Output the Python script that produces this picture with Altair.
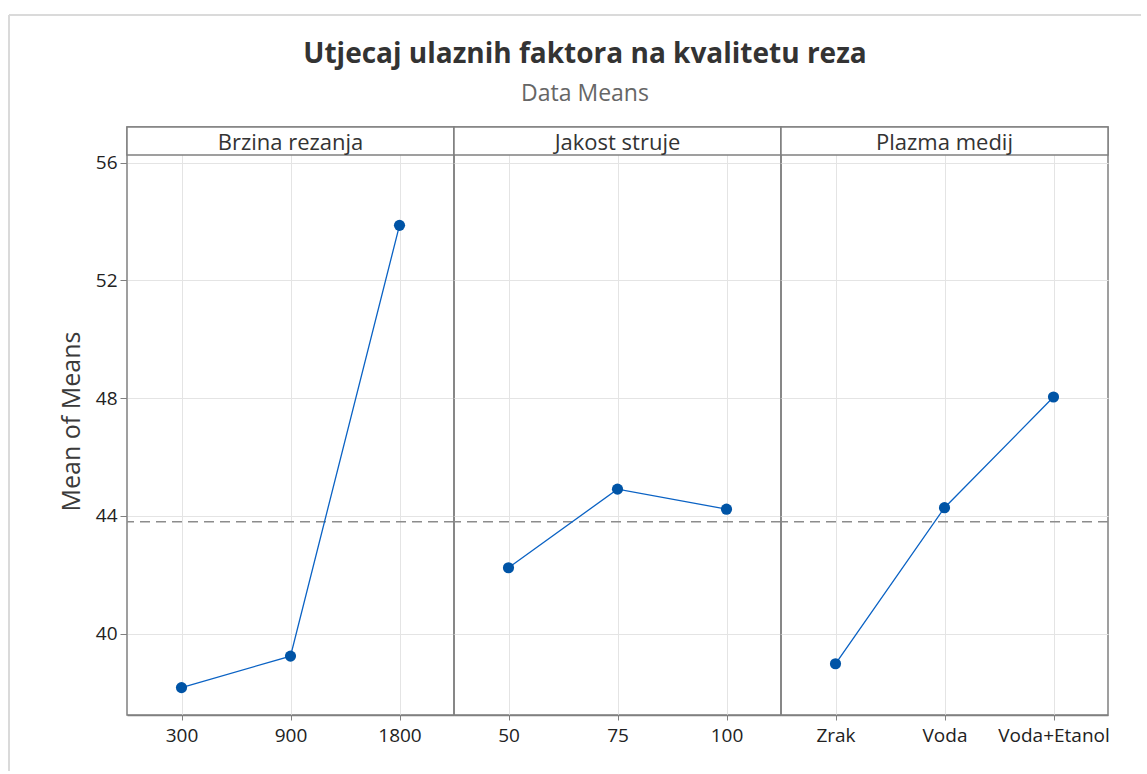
import altair as alt
import pandas as pd

# Main effects of the three input factors on cut quality
chart_title = "Utjecaj ulaznih faktora na kvalitetu reza"
chart_subtitle = "Data Means"
y_title = "Mean of Means"

factor_names = ["Brzina rezanja", "Jakost struje", "Plazma medij"]

brzina_levels = ["300", "900", "1800"]
brzina_means = [38.17, 39.24, 53.87]

jakost_levels = ["50", "75", "100"]
jakost_means = [42.24, 44.91, 44.23]

plazma_levels = ["Zrak", "Voda", "Voda+Etanol"]
plazma_means = [38.98, 44.28, 48.04]

grand_mean = 43.8

y_ticks = [40, 44, 48, 52, 56]

# styling
FONT = "Open Sans"
PANEL_W = 327
PANEL_H = 588
HEADER_H = 28
Y_DOMAIN = [37.24, 57.21]
FRAME = "#808080"
GRID = "#e4e4e4"
TEXT = "#222222"
POINT_BLUE = "#0054a6"
LINE_BLUE = "#0a62c4"
WINDOW_EDGE = "#dadada"


def make_panel(name, levels, means, first):
    df = pd.DataFrame({"level": levels, "mean": means})

    x_enc = alt.X(
        "level:N",
        sort=levels,
        scale=alt.Scale(type="point", padding=0.5),
        axis=alt.Axis(
            title=None, labelAngle=0, grid=True, gridColor=GRID,
            domainColor=FRAME, domainWidth=1.5, tickColor=FRAME,
            tickSize=5, labelPadding=6, labelFont=FONT, labelFontSize=19,
            labelColor=TEXT,
        ),
    )
    if first:
        y_axis = alt.Axis(
            values=y_ticks, title=y_title, titleFont=FONT, titleFontSize=25,
            titleFontWeight="normal", titleColor="#3a3a3a", titlePadding=11,
            labelFont=FONT, labelFontSize=19, labelColor=TEXT, labelPadding=3,
            tickSize=7, tickColor=FRAME, domain=False, grid=True,
            gridColor=GRID,
        )
    else:
        y_axis = alt.Axis(
            values=y_ticks, title=None, labels=False, ticks=False,
            domain=False, grid=True, gridColor=GRID, minExtent=0,
        )
    y_enc = alt.Y(
        "mean:Q",
        scale=alt.Scale(domain=Y_DOMAIN, nice=False, zero=False),
        axis=y_axis,
    )

    base = alt.Chart(df).encode(x=x_enc, y=y_enc)
    line = base.mark_line(color=LINE_BLUE, strokeWidth=1.3)
    points = base.mark_circle(color=POINT_BLUE, size=125, opacity=1)

    ref = (
        alt.Chart(pd.DataFrame({"grand_mean": [grand_mean]}))
        .mark_rule(color="#8c8c8c", strokeDash=[10, 6], strokeWidth=1.5)
        .encode(y=alt.datum(grand_mean))
    )

    header_df = pd.DataFrame({"factor": [name]})
    header_box = (
        alt.Chart(header_df)
        .mark_rect(fill="white", stroke=FRAME, strokeWidth=1.5)
        .encode(
            x=alt.value(0), x2=alt.value(PANEL_W),
            y=alt.value(0), y2=alt.value(HEADER_H),
        )
    )
    header_text = (
        alt.Chart(header_df)
        .mark_text(font=FONT, fontSize=22, color="#333333",
                   baseline="alphabetic")
        .encode(
            text="factor:N",
            x=alt.value(PANEL_W / 2),
            y=alt.value(HEADER_H - 5),
        )
    )

    layers = [ref, line, points, header_box, header_text]

    if first:
        # light window edge along the top and left of the graph
        edge_df = pd.DataFrame({"edge": ["top", "left"]})
        top_edge = (
            alt.Chart(edge_df.iloc[:1])
            .mark_rule(color=WINDOW_EDGE, strokeWidth=2)
            .encode(x=alt.value(-118), x2=alt.value(1014), y=alt.value(-112))
        )
        left_edge = (
            alt.Chart(edge_df.iloc[1:])
            .mark_rule(color=WINDOW_EDGE, strokeWidth=2)
            .encode(x=alt.value(-118), y=alt.value(-112), y2=alt.value(644))
        )
        layers = [top_edge, left_edge] + layers

    return alt.layer(*layers).properties(width=PANEL_W, height=PANEL_H)


panels = [
    make_panel(factor_names[0], brzina_levels, brzina_means, True),
    make_panel(factor_names[1], jakost_levels, jakost_means, False),
    make_panel(factor_names[2], plazma_levels, plazma_means, False),
]

chart = (
    alt.hconcat(*panels, spacing=0, bounds="flush")
    .properties(
        title=alt.TitleParams(
            text=chart_title,
            subtitle=chart_subtitle,
            font=FONT,
            fontSize=28,
            fontWeight="bold",
            color="#333333",
            subtitleFont=FONT,
            subtitleFontSize=23,
            subtitleColor="#666666",
            subtitlePadding=14,
            anchor="middle",
            offset=-93,
            dx=10,
        ),
        padding={"left": 7, "top": 13, "right": 0, "bottom": 0},
        background="white",
    )
    .configure_view(stroke=FRAME, strokeWidth=1.5)
)

chart.save("out.html", embed_options={"renderer": "svg", "actions": False})
